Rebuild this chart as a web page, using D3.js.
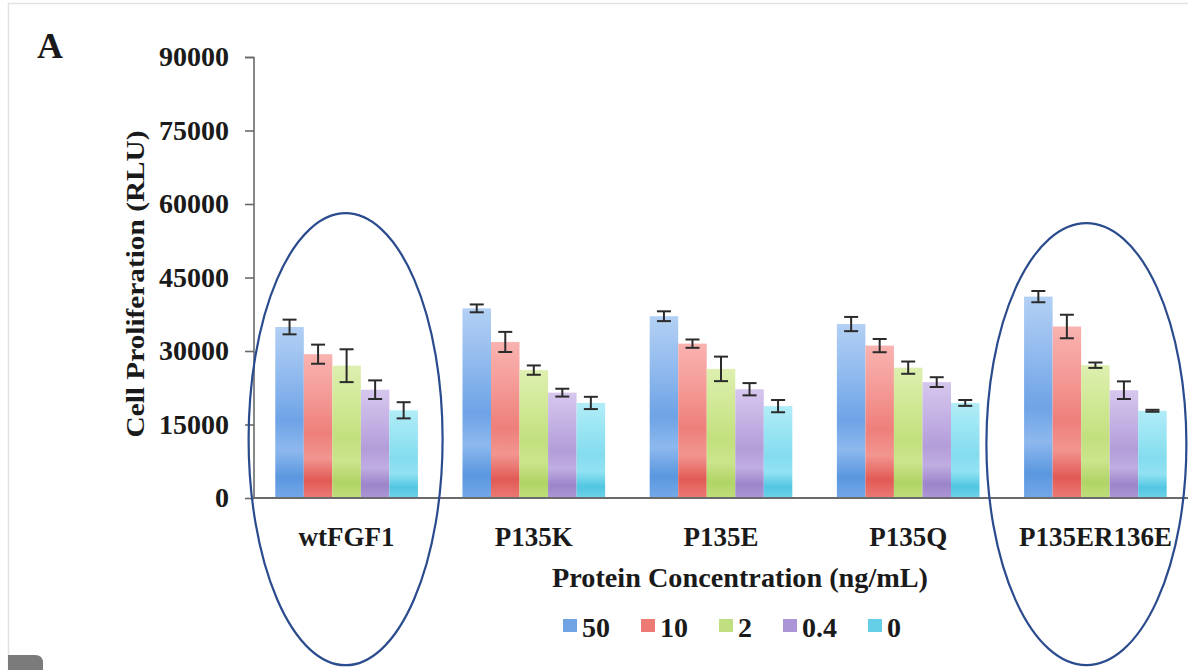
<!DOCTYPE html>
<html>
<head>
<meta charset="utf-8">
<script src="https://cdn.jsdelivr.net/npm/d3@7"></script>
<style>
  html, body { margin: 0; padding: 0; background: #fff; }
  svg { display: block; }
  text { font-family: "Liberation Serif", "Times New Roman", serif; font-weight: bold; fill: #1a1a1a; }
</style>
</head>
<body>
<svg id="chart" width="1188" height="670"></svg>
<script>
// ---- data ----
const categories = ["wtFGF1", "P135K", "P135E", "P135Q", "P135ER136E"];
const seriesNames = ["50", "10", "2", "0.4", "0"];
const values50  = [34900, 38700, 37100, 35500, 41100];
const values10  = [29350, 31850, 31500, 31100, 35000];
const values2   = [27000, 26100, 26350, 26600, 27100];
const values04  = [22100, 21500, 22200, 23650, 22000];
const values0   = [17900, 19400, 18750, 19400, 17800];
const errors50  = [1500, 800, 1000, 1450, 1150];
const errors10  = [1950, 2050, 850, 1350, 2400];
const errors2   = [3350, 950, 2500, 1250, 550];
const errors04  = [1900, 800, 1250, 1000, 1800];
const errors0   = [1650, 1250, 1250, 600, 200];
const yTicks = [0, 15000, 30000, 45000, 60000, 75000, 90000];
const highlighted = ["wtFGF1", "P135ER136E"];

const seriesValues = [values50, values10, values2, values04, values0];
const seriesErrors = [errors50, errors10, errors2, errors04, errors0];

// colour gradients (top -> bottom) per series
const gradStops = [
  ["#b3d0f4", "#8fb9ee", "#6ea3e6", "#8db8ee", "#5a97df", "#74a8e8"],
  ["#f9b3b0", "#f49995", "#ee7f7a", "#f29590", "#e25a55", "#ec7a75"],
  ["#deefb0", "#cfe894", "#c2e07e", "#cbe58c", "#b0d466", "#c0de7c"],
  ["#d6c7ee", "#c4b1e4", "#b39dd9", "#c0ade2", "#9c84c9", "#ad97d6"],
  ["#b2ecf7", "#98e4f3", "#84dcee", "#92e2f2", "#52c6e2", "#6fd2ea"]
];
const legendColors = ["#6fa3e4", "#ee7a76", "#bfdf80", "#ab95d6", "#66cfe8"];

const svg = d3.select("#chart");

// frame
svg.append("line").attr("x1", 8).attr("x2", 1188).attr("y1", 3.5).attr("y2", 3.5)
  .attr("stroke", "#e2e2e2").attr("stroke-width", 1.5);
svg.append("line").attr("x1", 8.5).attr("x2", 8.5).attr("y1", 3).attr("y2", 670)
  .attr("stroke", "#e2e2e2").attr("stroke-width", 1.5);
svg.append("path").attr("d", "M8,670 L8,655 L35,655 Q43,655 43,663 L43,670 Z").attr("fill", "#7b7b7b");

// gradients
const defs = svg.append("defs");
gradStops.forEach((stops, i) => {
  const g = defs.append("linearGradient").attr("id", "grad" + i)
    .attr("x1", 0).attr("x2", 0).attr("y1", 0).attr("y2", 1);
  const offs = [0, 0.3, 0.55, 0.72, 0.88, 1];
  stops.forEach((c, j) => g.append("stop").attr("offset", offs[j]).attr("stop-color", c));
});

// scales
const x0 = d3.scaleBand().domain(categories).range([253, 1189]).paddingInner(0.238).paddingOuter(0.119);
const x1 = d3.scaleBand().domain(seriesNames).range([0, x0.bandwidth()]).padding(0);
const y = d3.scaleLinear().domain([0, 90000]).range([498, 57]);

// "A" label
svg.append("text").attr("x", 37).attr("y", 58).attr("font-size", 36).text("A");

// y axis
const yAxis = d3.axisLeft(y).tickValues(yTicks).tickSize(9).tickPadding(16).tickFormat(d3.format("d"));
const gy = svg.append("g").attr("transform", "translate(254,0)").call(yAxis);
gy.select(".domain").attr("stroke", "#6a6a6a").attr("stroke-width", 1.6).attr("d", "M-9,57.5H0V498");
gy.selectAll(".tick line").attr("stroke", "#6a6a6a").attr("stroke-width", 1.6);
gy.selectAll(".tick text").attr("font-size", 28).attr("font-family", "Liberation Serif, Times New Roman, serif")
  .attr("font-weight", "bold").attr("fill", "#1a1a1a");

// y label
svg.append("text").attr("transform", "translate(144,284) rotate(-90)")
  .attr("text-anchor", "middle").attr("font-size", 25)
  .attr("textLength", 307).attr("lengthAdjust", "spacingAndGlyphs")
  .text("Cell Proliferation (RLU)");

// bars
const groups = svg.append("g").selectAll("g").data(categories).join("g")
  .attr("transform", d => `translate(${x0(d)},0)`);
groups.each(function (cat, ci) {
  const g = d3.select(this);
  seriesNames.forEach((s, si) => {
    const v = seriesValues[si][ci];
    g.append("rect")
      .attr("x", x1(s)).attr("width", x1.bandwidth())
      .attr("y", y(v)).attr("height", y(0) - y(v))
      .attr("fill", `url(#grad${si})`);
  });
  seriesNames.forEach((s, si) => {
    const v = seriesValues[si][ci], e = seriesErrors[si][ci];
    const cx = x1(s) + x1.bandwidth() / 2;
    const ebar = g.append("g").attr("stroke", "#2b2b2b").attr("stroke-width", 2);
    ebar.append("line").attr("x1", cx).attr("x2", cx).attr("y1", y(v + e)).attr("y2", y(v - e));
    ebar.append("line").attr("x1", cx - 7).attr("x2", cx + 7).attr("y1", y(v + e)).attr("y2", y(v + e));
    ebar.append("line").attr("x1", cx - 7).attr("x2", cx + 7).attr("y1", y(v - e)).attr("y2", y(v - e));
  });
});

// x axis line
svg.append("line").attr("x1", 254).attr("x2", 1188).attr("y1", y(0)).attr("y2", y(0))
  .attr("stroke", "#6a6a6a").attr("stroke-width", 2.2);

// category labels
svg.append("g").selectAll("text").data(categories).join("text")
  .attr("x", d => x0(d) + x0.bandwidth() / 2).attr("y", 546)
  .attr("text-anchor", "middle").attr("font-size", 27).text(d => d);

// x title
svg.append("text").attr("x", 740).attr("y", 587).attr("text-anchor", "middle")
  .attr("font-size", 27).attr("textLength", 376).attr("lengthAdjust", "spacingAndGlyphs")
  .text("Protein Concentration (ng/mL)");

// legend
const legend = svg.append("g");
let lx = 563;
seriesNames.forEach((s, i) => {
  legend.append("rect").attr("x", lx).attr("y", 619).attr("width", 14).attr("height", 13)
    .attr("fill", legendColors[i]);
  const t = legend.append("text").attr("x", lx + 19).attr("y", 637).attr("font-size", 28).text(s);
  lx += 19 + t.node().getComputedTextLength() + 31;
});

// highlight ellipses
const ellipseOffsets = { "wtFGF1": -1, "P135ER136E": -9 };
svg.append("g").selectAll("ellipse").data(highlighted).join("ellipse")
  .attr("cx", d => x0(d) + x0.bandwidth() / 2 + ellipseOffsets[d])
  .attr("cy", d => d === "wtFGF1" ? y(12000) : y(11000))
  .attr("rx", d => d === "wtFGF1" ? 97 : 100)
  .attr("ry", d => d === "wtFGF1" ? 226 : 221)
  .attr("fill", "none").attr("stroke", "#2a4b8d").attr("stroke-width", 2.2);
</script>
</body>
</html>
